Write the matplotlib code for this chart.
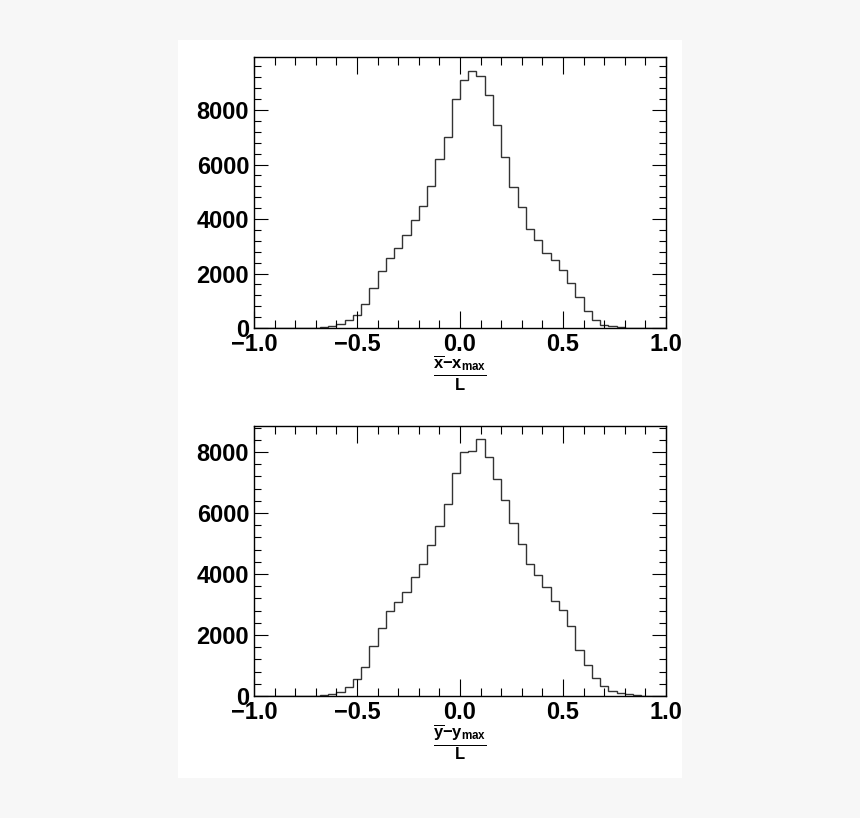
import numpy as np
import matplotlib
matplotlib.use("Agg")
import matplotlib.pyplot as plt
from matplotlib.ticker import MultipleLocator

plt.rcParams['font.family'] = ['Liberation Sans']
plt.rcParams['font.weight'] = 'bold'
plt.rcParams['mathtext.fontset'] = 'custom'
plt.rcParams['mathtext.rm'] = 'Liberation Sans:bold'
plt.rcParams['mathtext.it'] = 'Liberation Sans:bold'
plt.rcParams['mathtext.bf'] = 'Liberation Sans:bold'

edges = np.linspace(-1, 1, 51)
# counts per bin (0.04 wide), from -1 to 1
x_counts = [0, 0, 0, 0, 0, 0, 5, 10, 24, 61, 134, 281, 489, 881, 1480, 2079, 2556, 2948, 3412, 3963,
            4477, 5211, 6202, 7009, 8416, 9113, 9418,
            9247, 8549, 7464, 6263, 5186, 4452, 3632, 3229, 2764, 2507, 2116, 1639, 1125, 624, 306,
            122, 61, 24, 10, 5, 0, 0, 0]
y_counts = [0, 0, 0, 0, 0, 0, 5, 10, 22, 55, 142, 295, 547, 951, 1650, 2219, 2776, 3082, 3421, 3891,
            4339, 4951, 5585, 6296, 7301, 8001, 8045,
            8427, 7837, 7105, 6438, 5673, 4984, 4317, 3968, 3574, 3115, 2809, 2284, 1519, 1016, 579,
            317, 153, 98, 55, 33, 15, 5, 0]

fig = plt.figure(figsize=(8.6, 8.18), dpi=100, facecolor='#f7f7f7')
bg = plt.Rectangle((178/860, 1-778/818), 504/860, 738/818,
                   transform=fig.transFigure, facecolor='white', edgecolor='none', zorder=-10)
fig.add_artist(bg)

def make(ax, counts, ymax, label):
    n = min(len(counts), 50)
    ax.set_facecolor('none')
    ax.stairs(counts[:n], edges[:n+1], color='#333333', lw=1)
    ax.set_xlim(-1, 1)
    ax.set_ylim(0, ymax)
    ax.xaxis.set_major_locator(MultipleLocator(0.5))
    ax.xaxis.set_minor_locator(MultipleLocator(0.1))
    ax.yaxis.set_major_locator(MultipleLocator(2000))
    ax.yaxis.set_minor_locator(MultipleLocator(400))
    ax.tick_params(which='both', direction='in', top=True, right=True, labelsize=17, width=0.8)
    ax.tick_params(which='major', length=12)
    ax.tick_params(which='minor', length=6)
    ax.tick_params(axis='y', which='major', length=10)
    ax.tick_params(axis='y', which='minor', length=5)
    ax.set_xticks([-1, -0.5, 0, 0.5, 1])
    ax.set_xticklabels(['\u22121.0', '\u22120.5', '0.0', '0.5', '1.0'])
    for s in ax.spines.values():
        s.set_linewidth(1)
    ax.set_xlabel(label, fontsize=17)
    ax.xaxis.set_label_coords(0.5, -0.095, transform=ax.transAxes)
    ax.xaxis.label.set_verticalalignment('top')

ax1 = fig.add_axes([254/860, 1-328/818, 412/860, 271/818])
make(ax1, x_counts, 9945, r'$\frac{\overline{x}\mathrm{-x}_{\mathrm{max}}}{\mathrm{L}}$')
ax2 = fig.add_axes([254/860, 1-696/818, 412/860, 270/818])
make(ax2, y_counts, 8852, r'$\frac{\overline{y}\mathrm{-y}_{\mathrm{max}}}{\mathrm{L}}$')

fig.savefig('out.png', dpi=100, facecolor=fig.get_facecolor())
